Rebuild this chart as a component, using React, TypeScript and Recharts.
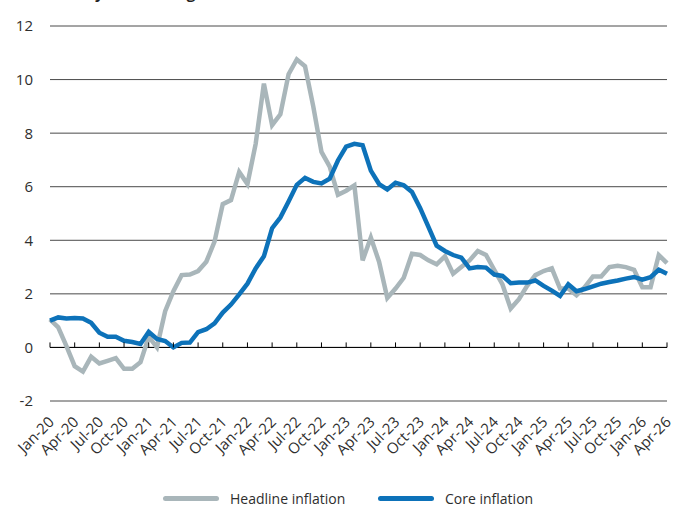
import React from 'react';
import {
  LineChart,
  Line,
  XAxis,
  YAxis,
  CartesianGrid,
  ReferenceLine,
  ReferenceDot,
} from 'recharts';

// Monthly categories, Jan-20 .. Apr-26
const months = [
  'Jan-20', 'Feb-20', 'Mar-20', 'Apr-20', 'May-20', 'Jun-20', 'Jul-20', 'Aug-20', 'Sep-20', 'Oct-20', 'Nov-20', 'Dec-20',
  'Jan-21', 'Feb-21', 'Mar-21', 'Apr-21', 'May-21', 'Jun-21', 'Jul-21', 'Aug-21', 'Sep-21', 'Oct-21', 'Nov-21', 'Dec-21',
  'Jan-22', 'Feb-22', 'Mar-22', 'Apr-22', 'May-22', 'Jun-22', 'Jul-22', 'Aug-22', 'Sep-22', 'Oct-22', 'Nov-22', 'Dec-22',
  'Jan-23', 'Feb-23', 'Mar-23', 'Apr-23', 'May-23', 'Jun-23', 'Jul-23', 'Aug-23', 'Sep-23', 'Oct-23', 'Nov-23', 'Dec-23',
  'Jan-24', 'Feb-24', 'Mar-24', 'Apr-24', 'May-24', 'Jun-24', 'Jul-24', 'Aug-24', 'Sep-24', 'Oct-24', 'Nov-24', 'Dec-24',
  'Jan-25', 'Feb-25', 'Mar-25', 'Apr-25', 'May-25', 'Jun-25', 'Jul-25', 'Aug-25', 'Sep-25', 'Oct-25', 'Nov-25', 'Dec-25',
  'Jan-26', 'Feb-26', 'Mar-26', 'Apr-26',
];

// Headline inflation, % year-on-year
const headline = [
  1.05, 0.75, 0.05, -0.7, -0.9, -0.35, -0.6, -0.5, -0.4, -0.8, -0.8, -0.55,
  0.4, 0.0, 1.35, 2.1, 2.7, 2.72, 2.85, 3.2, 3.95, 5.35, 5.5, 6.55,
  6.1, 7.6, 9.85, 8.3, 8.7, 10.2, 10.75, 10.5, 9.0, 7.3, 6.75, 5.7,
  5.85, 6.05, 3.25, 4.1, 3.2, 1.85, 2.2, 2.6, 3.5, 3.45, 3.25, 3.1,
  3.4, 2.75, 3.0, 3.25, 3.6, 3.45, 2.9, 2.35, 1.45, 1.8, 2.3, 2.7,
  2.85, 2.95, 2.2, 2.2, 1.95, 2.25, 2.65, 2.65, 3.0, 3.05, 3.0, 2.9,
  2.25, 2.25, 3.45, 3.15,
];

// Core inflation, % year-on-year
const core = [
  1.0, 1.12, 1.08, 1.1, 1.08, 0.92, 0.55, 0.4, 0.4, 0.25, 0.2, 0.13,
  0.58, 0.32, 0.24, 0.0, 0.17, 0.18, 0.57, 0.68, 0.9, 1.3, 1.6, 1.98,
  2.38, 2.95, 3.4, 4.45, 4.85, 5.45, 6.07, 6.33, 6.18, 6.12, 6.3, 6.98,
  7.5, 7.6, 7.55, 6.6, 6.1, 5.9, 6.15, 6.05, 5.8, 5.2, 4.5, 3.8,
  3.6, 3.45, 3.35, 2.95, 3.0, 2.98, 2.72, 2.67, 2.4, 2.42, 2.42, 2.5,
  2.3, 2.12, 1.92, 2.36, 2.1, 2.18, 2.28, 2.38, 2.44, 2.5, 2.57, 2.63,
  2.53, 2.62, 2.9, 2.75,
];

const yTicks = [-2, 0, 2, 4, 6, 8, 10, 12];

// Quarterly tick marks along the zero line
const quarterMonths = [
  'Jan-20', 'Apr-20', 'Jul-20', 'Oct-20', 'Jan-21', 'Apr-21', 'Jul-21', 'Oct-21',
  'Jan-22', 'Apr-22', 'Jul-22', 'Oct-22', 'Jan-23', 'Apr-23', 'Jul-23', 'Oct-23',
  'Jan-24', 'Apr-24', 'Jul-24', 'Oct-24', 'Jan-25', 'Apr-25', 'Jul-25', 'Oct-25',
  'Jan-26', 'Apr-26',
];

const series = [
  { key: 'headline', name: 'Headline inflation', color: '#a9b6ba' },
  { key: 'core', name: 'Core inflation', color: '#0d72b9' },
];

const data = months.map((m, i) => ({ month: m, headline: headline[i], core: core[i] }));

const FONT = '"Open Sans", "Noto Sans", sans-serif';
const TEXT = '#2e2e2e';

const MonthTick = (props: any) => {
  const { x, y, payload } = props;
  const ax = x + 5;
  const ay = y + 22;
  return (
    <text
      x={ax}
      y={ay}
      transform={`rotate(-45, ${ax}, ${ay})`}
      textAnchor="end"
      fontSize={15}
      fontFamily={FONT}
      fill={TEXT}
    >
      {payload.value}
    </text>
  );
};

const ValueTick = (props: any) => {
  const { x, y, payload } = props;
  return (
    <text x={x - 17} y={y} dy="0.36em" textAnchor="end" fontSize={15} fontFamily={FONT} fill={TEXT}>
      {payload.value}
    </text>
  );
};

const TickMark = (props: any) => {
  const { cx, cy } = props;
  return <line x1={cx} x2={cx} y1={cy - 5} y2={cy} stroke="#000" strokeWidth={1} />;
};

const legendLeft = [163, 378];

export default function App() {
  return (
    <div style={{ position: 'absolute', left: 0, top: 0, width: 682, height: 506, background: '#fff', overflow: 'hidden' }}>
      <svg width={682} height={20} style={{ position: 'absolute', left: 0, top: 0 }}>
        <text x={17} y={-1} fontSize={15} fontWeight={700} fontFamily={FONT} fill="#222">
          Inflation by CPI heading
        </text>
      </svg>
      <LineChart
        width={682}
        height={506}
        data={data}
        margin={{ top: 26, right: 15, bottom: 25, left: 0 }}
      >
        <CartesianGrid vertical={false} stroke="#4a4a4a" strokeWidth={1} />
        <XAxis
          dataKey="month"
          interval={2}
          axisLine={false}
          tickLine={false}
          tickSize={0}
          tickMargin={0}
          height={80}
          tick={<MonthTick />}
        />
        <YAxis
          domain={[-2, 12]}
          ticks={yTicks}
          axisLine={false}
          tickLine={false}
          tickSize={0}
          tickMargin={0}
          width={50}
          tick={<ValueTick />}
        />
        <ReferenceLine y={0} stroke="#000" strokeWidth={1} />
        {quarterMonths.map((m) => (
          <ReferenceDot key={m} x={m} y={0} shape={<TickMark />} />
        ))}
        {series.map((s) => (
          <Line
            key={s.key}
            dataKey={s.key}
            name={s.name}
            stroke={s.color}
            strokeWidth={4.5}
            dot={false}
            type="linear"
            isAnimationActive={false}
          />
        ))}
      </LineChart>
      {series.map((s, i) => (
        <div
          key={s.key}
          style={{
            position: 'absolute',
            left: legendLeft[i],
            top: 488,
            height: 20,
            display: 'flex',
            alignItems: 'center',
            fontFamily: FONT,
            fontSize: 14,
            color: TEXT,
            whiteSpace: 'nowrap',
          }}
        >
          <span
            style={{
              display: 'inline-block',
              width: 56,
              height: 5,
              borderRadius: 2.5,
              background: s.color,
              marginRight: 11,
            }}
          />
          <span>{s.name}</span>
        </div>
      ))}
    </div>
  );
}
